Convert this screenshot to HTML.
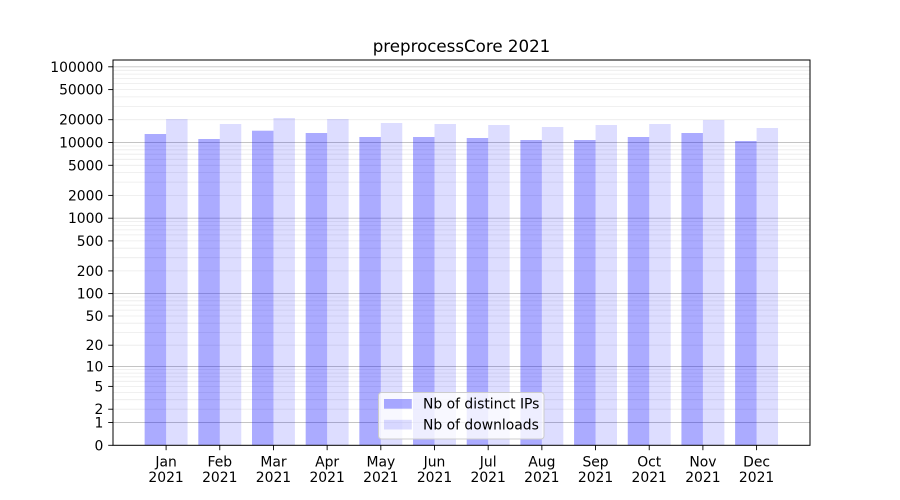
<!DOCTYPE html>
<html><head><meta charset="utf-8"><style>
html,body{margin:0;padding:0;background:#fff;}
svg{display:block;}
text{font-family:"DejaVu Sans","Liberation Sans",sans-serif;fill:#000;}
</style></head><body>
<svg width="900" height="500" viewBox="0 0 900 500" xmlns="http://www.w3.org/2000/svg">
<rect width="900" height="500" fill="#fff"/>
<!-- minor grid -->
<g stroke="#ebebeb" stroke-width="0.8">
<line x1="113" x2="810" y1="409.2" y2="409.2"/><line x1="113" x2="810" y1="399.7" y2="399.7"/><line x1="113" x2="810" y1="392.4" y2="392.4"/><line x1="113" x2="810" y1="386.4" y2="386.4"/><line x1="113" x2="810" y1="381.3" y2="381.3"/><line x1="113" x2="810" y1="376.9" y2="376.9"/><line x1="113" x2="810" y1="373.1" y2="373.1"/><line x1="113" x2="810" y1="369.6" y2="369.6"/>
<line x1="113" x2="810" y1="345.2" y2="345.2"/><line x1="113" x2="810" y1="332.4" y2="332.4"/><line x1="113" x2="810" y1="323.2" y2="323.2"/><line x1="113" x2="810" y1="316.0" y2="316.0"/><line x1="113" x2="810" y1="310.1" y2="310.1"/><line x1="113" x2="810" y1="305.2" y2="305.2"/><line x1="113" x2="810" y1="300.8" y2="300.8"/><line x1="113" x2="810" y1="297.0" y2="297.0"/>
<line x1="113" x2="810" y1="270.9" y2="270.9"/><line x1="113" x2="810" y1="257.7" y2="257.7"/><line x1="113" x2="810" y1="248.2" y2="248.2"/><line x1="113" x2="810" y1="240.9" y2="240.9"/><line x1="113" x2="810" y1="234.9" y2="234.9"/><line x1="113" x2="810" y1="229.9" y2="229.9"/><line x1="113" x2="810" y1="225.5" y2="225.5"/><line x1="113" x2="810" y1="221.6" y2="221.6"/>
<line x1="113" x2="810" y1="195.4" y2="195.4"/><line x1="113" x2="810" y1="182.1" y2="182.1"/><line x1="113" x2="810" y1="172.6" y2="172.6"/><line x1="113" x2="810" y1="165.3" y2="165.3"/><line x1="113" x2="810" y1="159.3" y2="159.3"/><line x1="113" x2="810" y1="154.2" y2="154.2"/><line x1="113" x2="810" y1="149.8" y2="149.8"/><line x1="113" x2="810" y1="146.0" y2="146.0"/>
<line x1="113" x2="810" y1="119.7" y2="119.7"/><line x1="113" x2="810" y1="106.4" y2="106.4"/><line x1="113" x2="810" y1="96.9" y2="96.9"/><line x1="113" x2="810" y1="89.6" y2="89.6"/><line x1="113" x2="810" y1="83.6" y2="83.6"/><line x1="113" x2="810" y1="78.5" y2="78.5"/><line x1="113" x2="810" y1="74.1" y2="74.1"/><line x1="113" x2="810" y1="70.3" y2="70.3"/>
</g>
<!-- major grid -->
<g stroke="#c4c4c4" stroke-width="0.9">
<line x1="113" x2="810" y1="422.5" y2="422.5"/><line x1="113" x2="810" y1="366.5" y2="366.5"/><line x1="113" x2="810" y1="293.6" y2="293.6"/><line x1="113" x2="810" y1="218.2" y2="218.2"/><line x1="113" x2="810" y1="142.5" y2="142.5"/><line x1="113" x2="810" y1="66.8" y2="66.8"/>
</g>
<!-- bars: distinct IPs -->
<g fill="#0000ff" fill-opacity="0.33">
<rect x="144.63" y="134" width="21.47" height="311.3"/>
<rect x="198.31" y="139" width="21.47" height="306.3"/>
<rect x="251.99" y="130.7" width="21.47" height="314.6"/>
<rect x="305.67" y="133" width="21.47" height="312.3"/>
<rect x="359.35" y="137" width="21.47" height="308.3"/>
<rect x="413.03" y="137" width="21.47" height="308.3"/>
<rect x="466.71" y="138" width="21.47" height="307.3"/>
<rect x="520.39" y="140" width="21.47" height="305.3"/>
<rect x="574.07" y="140" width="21.47" height="305.3"/>
<rect x="627.75" y="137" width="21.47" height="308.3"/>
<rect x="681.43" y="133" width="21.47" height="312.3"/>
<rect x="735.11" y="141" width="21.47" height="304.3"/>
</g>
<!-- bars: downloads -->
<g fill="#0000ff" fill-opacity="0.135">
<rect x="166.1" y="119" width="21.47" height="326.3"/>
<rect x="219.78" y="124" width="21.47" height="321.3"/>
<rect x="273.46" y="118" width="21.47" height="327.3"/>
<rect x="327.14" y="119" width="21.47" height="326.3"/>
<rect x="380.82" y="123" width="21.47" height="322.3"/>
<rect x="434.5" y="124" width="21.47" height="321.3"/>
<rect x="488.18" y="125" width="21.47" height="320.3"/>
<rect x="541.86" y="127" width="21.47" height="318.3"/>
<rect x="595.54" y="125" width="21.47" height="320.3"/>
<rect x="649.22" y="124" width="21.47" height="321.3"/>
<rect x="702.9" y="120" width="21.47" height="325.3"/>
<rect x="756.58" y="128" width="21.47" height="317.3"/>
</g>
<!-- spines -->
<rect x="113" y="60" width="697" height="385.3" fill="none" stroke="#000" stroke-width="1"/>
<!-- y ticks -->
<g stroke="#000" stroke-width="0.9">
<line x1="108.2" x2="113" y1="445.3" y2="445.3"/><line x1="108.2" x2="113" y1="422.5" y2="422.5"/><line x1="108.2" x2="113" y1="409.2" y2="409.2"/><line x1="108.2" x2="113" y1="386.4" y2="386.4"/><line x1="108.2" x2="113" y1="366.5" y2="366.5"/><line x1="108.2" x2="113" y1="345.2" y2="345.2"/><line x1="108.2" x2="113" y1="316.0" y2="316.0"/><line x1="108.2" x2="113" y1="293.6" y2="293.6"/><line x1="108.2" x2="113" y1="270.9" y2="270.9"/><line x1="108.2" x2="113" y1="240.9" y2="240.9"/><line x1="108.2" x2="113" y1="218.2" y2="218.2"/><line x1="108.2" x2="113" y1="195.4" y2="195.4"/><line x1="108.2" x2="113" y1="165.3" y2="165.3"/><line x1="108.2" x2="113" y1="142.5" y2="142.5"/><line x1="108.2" x2="113" y1="119.7" y2="119.7"/><line x1="108.2" x2="113" y1="89.6" y2="89.6"/><line x1="108.2" x2="113" y1="66.8" y2="66.8"/>
</g>
<g font-size="13.9" text-anchor="end">
<text x="103.3" y="450.3">0</text>
<text x="103.3" y="427.5">1</text>
<text x="103.3" y="414.2">2</text>
<text x="103.3" y="391.4">5</text>
<text x="103.3" y="371.5">10</text>
<text x="103.3" y="350.2">20</text>
<text x="103.3" y="321.0">50</text>
<text x="103.3" y="298.6">100</text>
<text x="103.3" y="275.9">200</text>
<text x="103.3" y="245.9">500</text>
<text x="103.3" y="223.2">1000</text>
<text x="103.3" y="200.4">2000</text>
<text x="103.3" y="170.3">5000</text>
<text x="103.3" y="147.5">10000</text>
<text x="103.3" y="124.7">20000</text>
<text x="103.3" y="94.6">50000</text>
<text x="103.3" y="71.8">100000</text>
</g>
<!-- x ticks -->
<g stroke="#000" stroke-width="0.9">
<line x1="166.1" x2="166.1" y1="445.3" y2="450.2"/><line x1="219.78" x2="219.78" y1="445.3" y2="450.2"/><line x1="273.46" x2="273.46" y1="445.3" y2="450.2"/><line x1="327.14" x2="327.14" y1="445.3" y2="450.2"/><line x1="380.82" x2="380.82" y1="445.3" y2="450.2"/><line x1="434.5" x2="434.5" y1="445.3" y2="450.2"/><line x1="488.18" x2="488.18" y1="445.3" y2="450.2"/><line x1="541.86" x2="541.86" y1="445.3" y2="450.2"/><line x1="595.54" x2="595.54" y1="445.3" y2="450.2"/><line x1="649.22" x2="649.22" y1="445.3" y2="450.2"/><line x1="702.9" x2="702.9" y1="445.3" y2="450.2"/><line x1="756.58" x2="756.58" y1="445.3" y2="450.2"/>
</g>
<g font-size="13.9" text-anchor="middle">
<text x="166.1" y="466.5">Jan</text><text x="166.1" y="482">2021</text>
<text x="219.78" y="466.5">Feb</text><text x="219.78" y="482">2021</text>
<text x="273.46" y="466.5">Mar</text><text x="273.46" y="482">2021</text>
<text x="327.14" y="466.5">Apr</text><text x="327.14" y="482">2021</text>
<text x="380.82" y="466.5">May</text><text x="380.82" y="482">2021</text>
<text x="434.5" y="466.5">Jun</text><text x="434.5" y="482">2021</text>
<text x="488.18" y="466.5">Jul</text><text x="488.18" y="482">2021</text>
<text x="541.86" y="466.5">Aug</text><text x="541.86" y="482">2021</text>
<text x="595.54" y="466.5">Sep</text><text x="595.54" y="482">2021</text>
<text x="649.22" y="466.5">Oct</text><text x="649.22" y="482">2021</text>
<text x="702.9" y="466.5">Nov</text><text x="702.9" y="482">2021</text>
<text x="756.58" y="466.5">Dec</text><text x="756.58" y="482">2021</text>
</g>
<!-- title -->
<text x="461.5" y="52" font-size="16.67" text-anchor="middle">preprocessCore 2021</text>
<!-- legend -->
<rect x="378.5" y="392.5" width="165.5" height="46.5" rx="3" ry="3" fill="#fff" fill-opacity="0.8" stroke="#cccccc" stroke-width="1"/>
<rect x="384" y="399" width="27.8" height="9.7" fill="#0000ff" fill-opacity="0.33"/>
<rect x="384" y="419.8" width="27.8" height="9.7" fill="#0000ff" fill-opacity="0.135"/>
<text x="423" y="408.5" font-size="13.9">Nb of distinct IPs</text>
<text x="423" y="429.3" font-size="13.9">Nb of downloads</text>
</svg>
</body></html>
